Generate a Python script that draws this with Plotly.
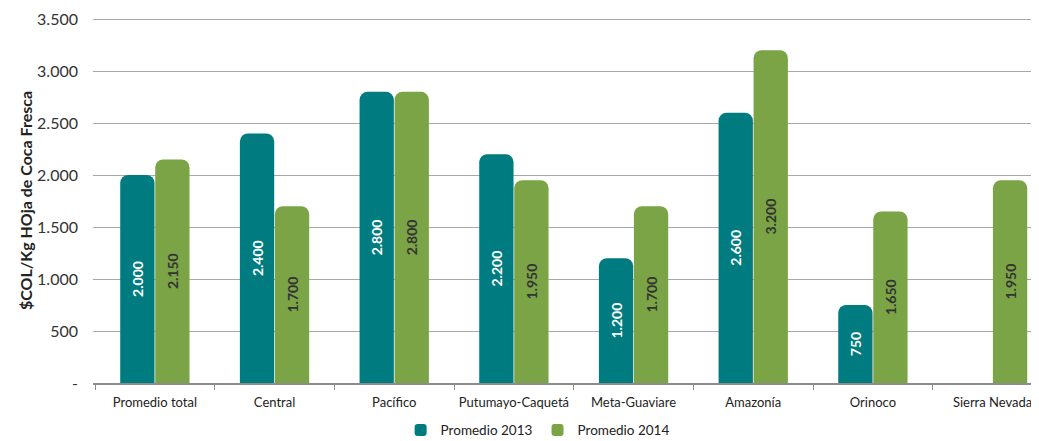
import plotly.graph_objects as go

categories = ["Promedio total", "Central", "Pacífico", "Putumayo-Caquetá",
              "Meta-Guaviare", "Amazonía", "Orinoco", "Sierra Nevada"]
promedio_2013 = [2000, 2400, 2800, 2200, 1200, 2600, 750, None]
promedio_2014 = [2150, 1700, 2800, 1950, 1700, 3200, 1650, 1950]
y_tick_vals = [0, 500, 1000, 1500, 2000, 2500, 3000, 3500]
y_tick_text = ["-", "500", "1.000", "1.500", "2.000", "2.500", "3.000", "3.500"]

def fmt(v):
    return "" if v is None else f"{v:,}".replace(",", ".")

FONT = "Lato, Open Sans, sans-serif"
TEAL = "#007C80"
GREEN = "#7AA445"

fig = go.Figure()
fig.add_trace(go.Bar(
    name="Promedio 2013", x=categories, y=promedio_2013,
    text=[fmt(v) for v in promedio_2013], textposition="inside",
    insidetextanchor="middle", textangle=-90,
    textfont=dict(color="white", size=14, family=FONT, weight="bold"),
    marker=dict(color=TEAL, cornerradius=8, line=dict(width=0)),
))
fig.add_trace(go.Bar(
    name="Promedio 2014", x=categories, y=promedio_2014,
    text=[fmt(v) for v in promedio_2014], textposition="inside",
    insidetextanchor="middle", textangle=-90,
    textfont=dict(color="#333333", size=14, family=FONT, weight="bold"),
    marker=dict(color=GREEN, cornerradius=8, line=dict(width=0)),
))

fig.update_layout(
    width=1031, height=433,
    margin=dict(l=85, r=0, t=10, b=58),
    plot_bgcolor="white", paper_bgcolor="white",
    barmode="group", bargap=0.415, bargroupgap=0.02,
    font=dict(family=FONT, size=12, color="#222222"),
    legend=dict(orientation="h", x=0.47, xanchor="center",
                yref="container", y=0.025, yanchor="middle",
                font=dict(size=13.5, color="#222222"),
                traceorder="normal"),
    xaxis=dict(range=[-0.517, 7.388],
               showgrid=False, showline=True, linecolor="#8c8c8c", linewidth=2,
               ticks="outside", tickson="boundaries", ticklen=5, tickcolor="#8c8c8c",
               ticklabelstandoff=6, automargin=False, tickangle=0,
               tickfont=dict(size=13, color="#222222")),
    yaxis=dict(range=[0, 3510], tickvals=y_tick_vals, ticktext=y_tick_text,
               showgrid=True, gridcolor="#a8a8a8", gridwidth=1,
               zeroline=False, showline=False, ticks="", ticklabelstandoff=14,
               automargin=False, ticklabeloverflow="allow",
               tickfont=dict(size=16, color="#333333"),
               title=dict(text="$COL/Kg HOja de Coca Fresca",
                          font=dict(size=16, color="#222222", weight="bold"),
                          standoff=0)),
)

fig.write_html("out.html")
